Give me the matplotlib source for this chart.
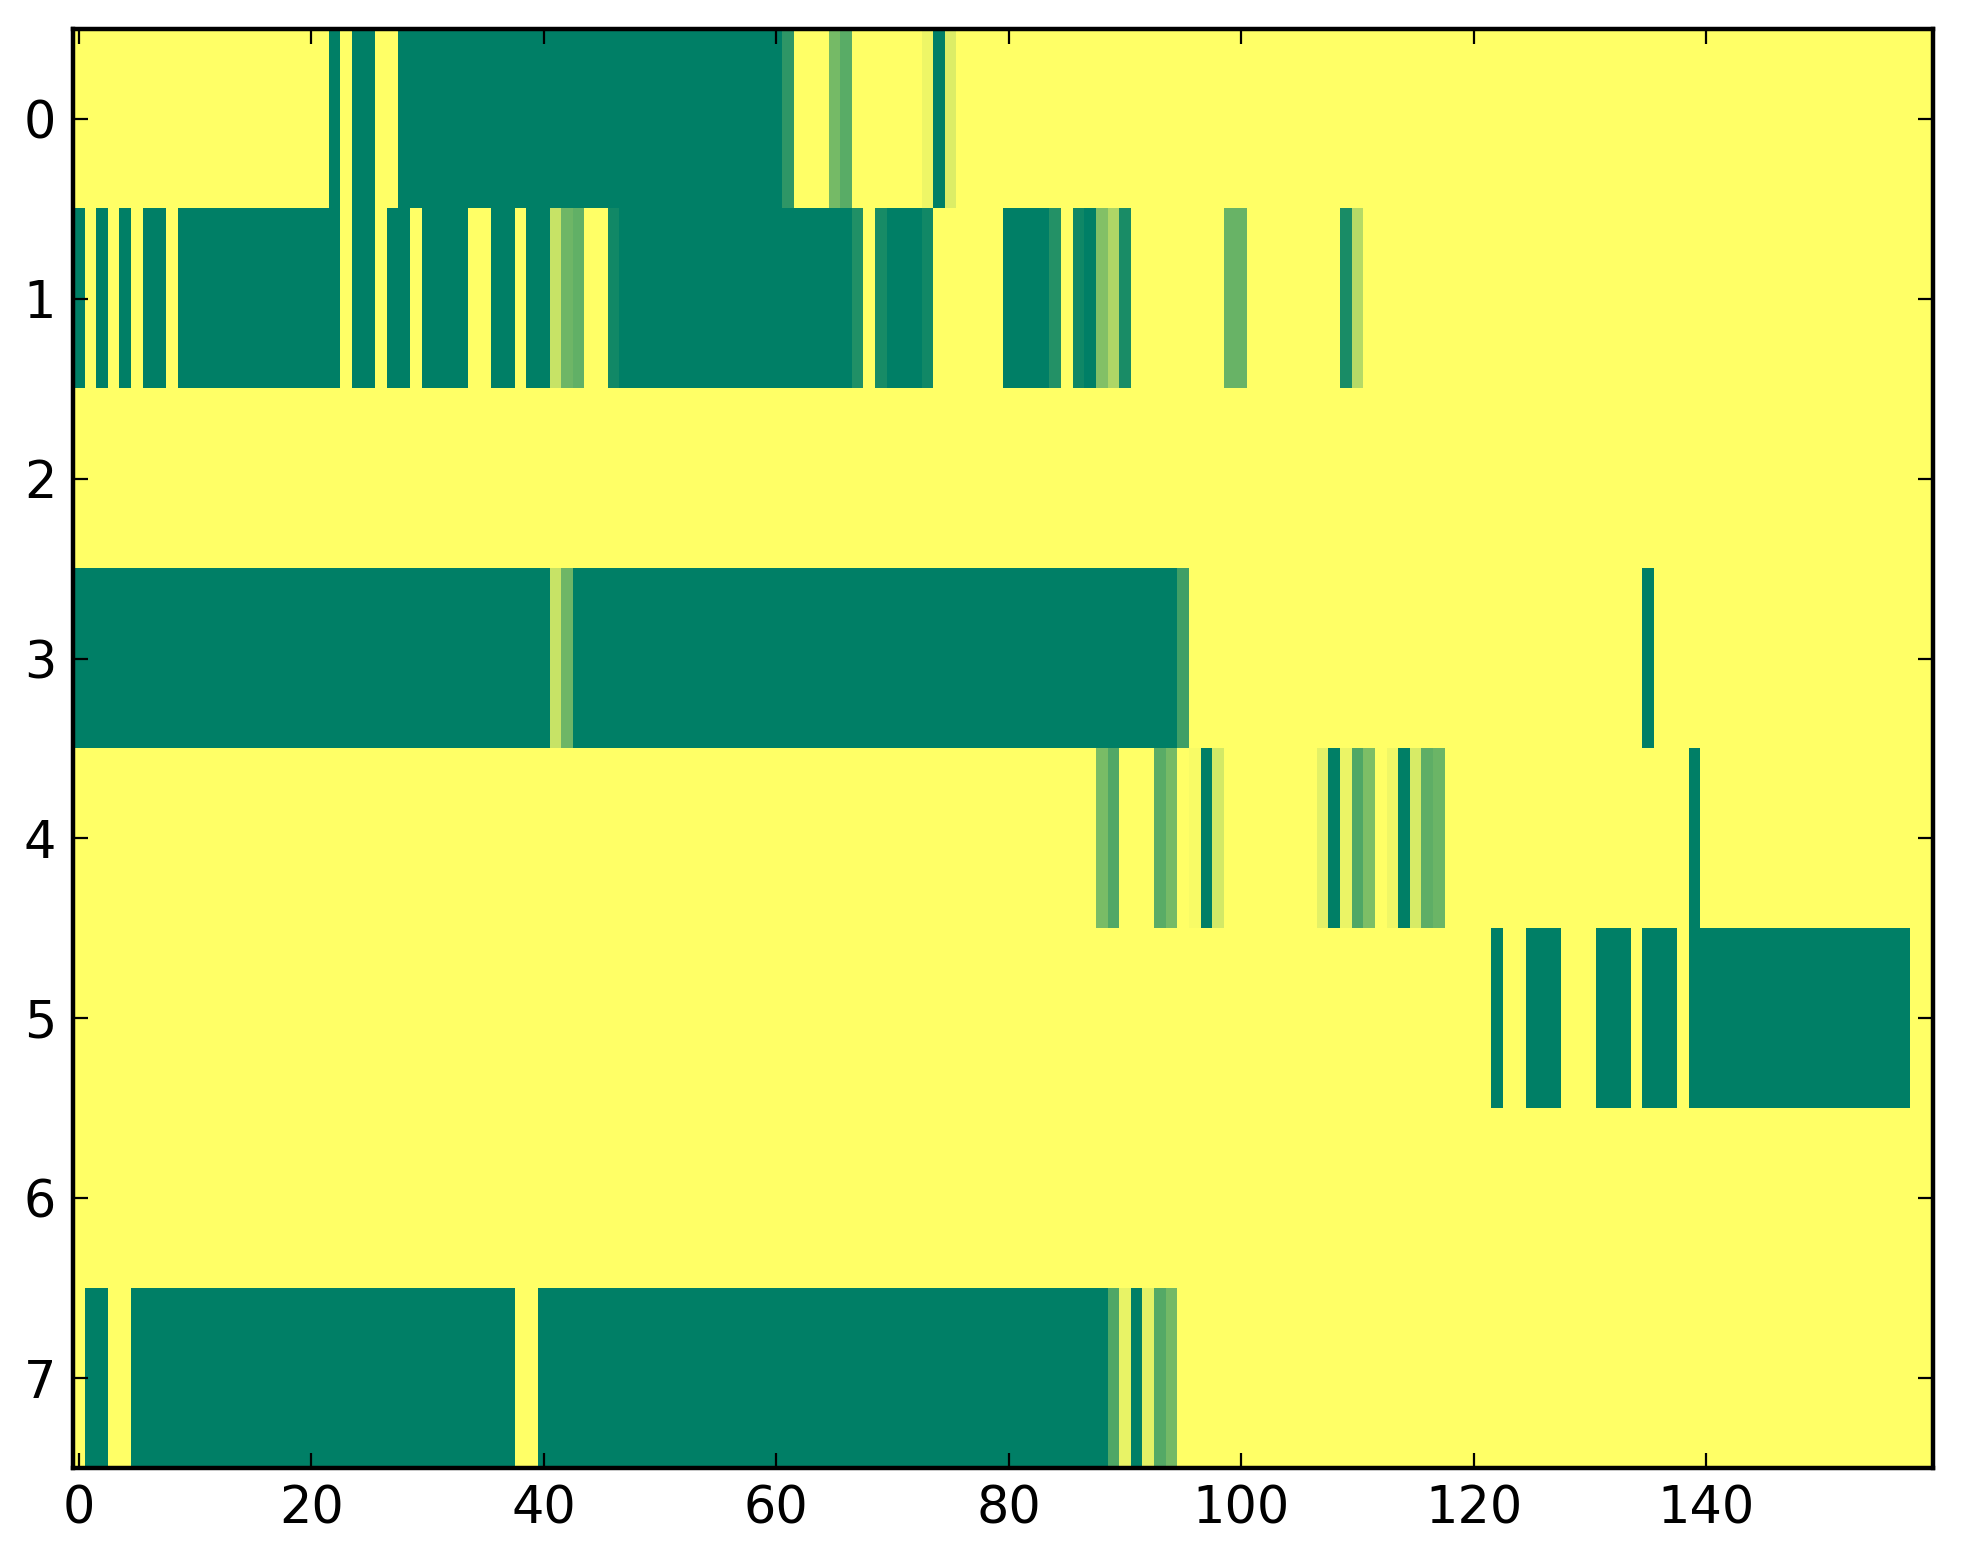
import numpy as np
import matplotlib
matplotlib.use("Agg")
import matplotlib.pyplot as plt

# each row stored as run-length pairs (value, number of columns); 160 columns per row
row0 = [(1, 22), (0, 1), (1, 1), (0, 2), (1, 2), (0, 33), (0.18, 1), (1, 3), (0.46, 1),
        (0.35, 1), (1, 6), (0.93, 1), (0, 1), (0.86, 1), (1, 84)]
row1 = [(0, 1), (1, 1), (0, 1), (1, 1), (0, 1), (1, 1), (0, 2), (1, 1), (0, 14), (1, 1),
        (0, 2), (1, 1), (0, 2), (1, 1), (0, 4), (1, 2), (0, 2), (1, 1), (0, 2), (0.78, 1),
        (0.43, 1), (0.38, 1), (1, 2), (0.07, 1), (0, 20), (0.13, 1), (1, 1), (0.09, 1),
        (0, 3), (0.07, 1), (1, 6), (0, 4), (0.14, 1), (1, 1), (0.06, 1), (0, 1), (0.51, 1),
        (0.68, 1), (0.1, 1), (1, 8), (0.41, 2), (1, 8), (0.1, 1), (0.71, 1), (1, 49)]
row2 = [(1, 160)]
row3 = [(0, 41), (0.78, 1), (0.43, 1), (0, 52), (0.25, 1), (1, 39), (0, 1), (1, 24)]
row4 = [(1, 88), (0.48, 1), (0.32, 1), (1, 3), (0.35, 1), (0.46, 1), (1, 1), (0.97, 1),
        (0, 1), (0.83, 1), (1, 8), (0.89, 1), (0, 1), (0.92, 1), (0.31, 1), (0.49, 1),
        (1, 1), (0.94, 1), (0, 1), (0.84, 1), (0.37, 1), (0.42, 1), (1, 21), (0, 1), (1, 20)]
row5 = [(1, 122), (0, 1), (1, 2), (0, 3), (1, 3), (0, 3), (1, 1), (0, 3), (1, 1), (0, 19), (1, 2)]
row6 = [(1, 160)]
row7 = [(1, 1), (0, 2), (1, 2), (0, 33), (1, 2), (0, 49), (0.31, 1), (0.91, 1), (0, 1),
        (0.89, 1), (0.33, 1), (0.45, 1), (1, 65)]

rows = [row0, row1, row2, row3, row4, row5, row6, row7]


def expand(runs):
    out = []
    for v, n in runs:
        out += [v] * n
    return out


data = np.array([expand(r) for r in rows], dtype=float)

fig = plt.figure(figsize=(9.815, 7.82), dpi=200)
ax = fig.add_axes([0.0372, 0.0614, 0.9475, 0.9201])
ax.imshow(data, cmap="summer", aspect="auto", interpolation="nearest", vmin=0, vmax=1)

ax.set_xticks(range(0, 160, 20))
ax.set_yticks(range(0, 8))
ax.tick_params(direction="in", top=True, right=True, length=5.5, width=0.8,
               labelsize=18.3, pad=6)
for s in ax.spines.values():
    s.set_linewidth(1.6)

fig.savefig("out.png", dpi=200, facecolor="white")
